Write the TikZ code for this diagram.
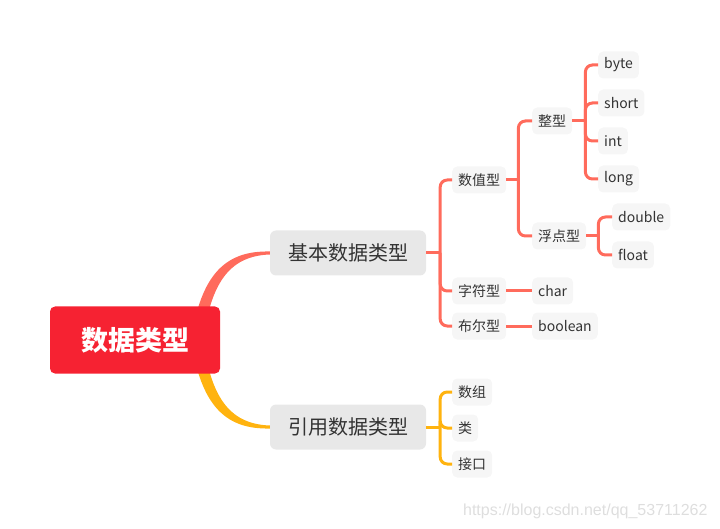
\documentclass[tikz,border=0pt]{standalone}
\usepackage{fontspec}
\setmainfont{Noto Sans CJK SC}
\newfontfamily\markfont{Liberation Sans}
\usetikzlibrary{positioning, backgrounds, calc}

\definecolor{rootred}{HTML}{F62232}
\definecolor{branchred}{HTML}{FF6B5C}
\definecolor{branchgold}{HTML}{FFB30F}
\definecolor{boxgray}{HTML}{E8E8E8}
\definecolor{leafgray}{HTML}{F6F6F6}
\definecolor{textgray}{HTML}{333333}

\begin{document}
\begin{tikzpicture}[
    x=1pt, y=-1pt,
    rootnode/.style={rectangle, rounded corners=5pt, fill=rootred, text=white, minimum width=170pt, minimum height=67pt, font=\fontsize{27}{30}\selectfont\bfseries},
    mainnode/.style={rectangle, rounded corners=6pt, fill=boxgray, text=textgray, minimum width=156pt, minimum height=45pt, font=\fontsize{20}{24}\selectfont},
    subnode/.style={rectangle, rounded corners=5pt, fill=leafgray, text=textgray, minimum height=27pt, inner xsep=6pt, anchor=west, font=\fontsize{14}{17}\selectfont},
    redline/.style={draw=branchred, line width=3pt, rounded corners=7pt},
    goldline/.style={draw=branchgold, line width=3pt, rounded corners=7pt}
]
\useasboundingbox (0,0) rectangle (720,529);

% root and main branches
\node [rootnode] (root) at (135,340) {数据类型};
\node [mainnode] (jiben) at (348,253) {基本数据类型};
\node [mainnode] (yinyong) at (348,427) {引用数据类型};

% second level
\node [subnode] (shuzhi) at (452,180) {数值型};
\node [subnode] (zifu) at (452,291) {字符型};
\node [subnode] (buer) at (452,326) {布尔型};
\node [subnode] (shuzu) at (452,392) {数组};
\node [subnode] (lei) at (452,428) {类};
\node [subnode] (jiekou) at (452,464) {接口};

% third level
\node [subnode] (zheng) at (532,121) {整型};
\node [subnode] (fudian) at (532,236) {浮点型};
\node [subnode] (char) at (532,291) {char};
\node [subnode] (boolean) at (532,326) {boolean};

% leaves
\node [subnode] (byte) at (598,65) {byte};
\node [subnode] (short) at (598,103) {short};
\node [subnode] (int) at (598,141) {int};
\node [subnode] (long) at (598,179) {long};
\node [subnode] (double) at (612,217) {double};
\node [subnode] (float) at (612,255) {float};

\node [font=\markfont\fontsize{16}{18}\selectfont, text=black!13, anchor=east] (mark) at (711,511) {https://blog.csdn.net/qq\_53711262};

% tapered curves behind the root
\begin{pgfonlayer}{background}
\fill [branchred] ([xshift=56pt]root.center) .. controls +(10,-65) and +(-45,-1) .. ($(jiben.west)+(0,-1.5)$)
    -- ($(jiben.west)+(0,1.5)$) .. controls +(-42,1.5) and +(8,-55) .. ([xshift=68pt]root.center) -- cycle;
\fill [branchgold] ([xshift=56pt]root.center) .. controls +(10,65) and +(-45,1) .. ($(yinyong.west)+(0,1.5)$)
    -- ($(yinyong.west)+(0,-1.5)$) .. controls +(-42,-1.5) and +(8,55) .. ([xshift=68pt]root.center) -- cycle;
\end{pgfonlayer}

% brackets
\draw [redline] (jiben.east) -- ++(14,0) coordinate (jb);
\foreach \c in {shuzhi, zifu, buer}
    \draw [redline] (jb) |- (\c.west);
\draw [redline] (shuzhi.east) -- ++(12,0) coordinate (sz);
\foreach \c in {zheng, fudian}
    \draw [redline] (sz) |- (\c.west);
\draw [redline] (zheng.east) -- ++(13,0) coordinate (zx);
\foreach \c in {byte, short, int, long}
    \draw [redline] (zx) |- (\c.west);
\draw [redline] (fudian.east) -- ++(12,0) coordinate (fd);
\foreach \c in {double, float}
    \draw [redline] (fd) |- (\c.west);
\draw [redline] (zifu.east) -- (char.west);
\draw [redline] (buer.east) -- (boolean.west);

\draw [goldline] (yinyong.east) -- ++(14,0) coordinate (yy);
\foreach \c in {shuzu, lei, jiekou}
    \draw [goldline] (yy) |- (\c.west);

\end{tikzpicture}
\end{document}
